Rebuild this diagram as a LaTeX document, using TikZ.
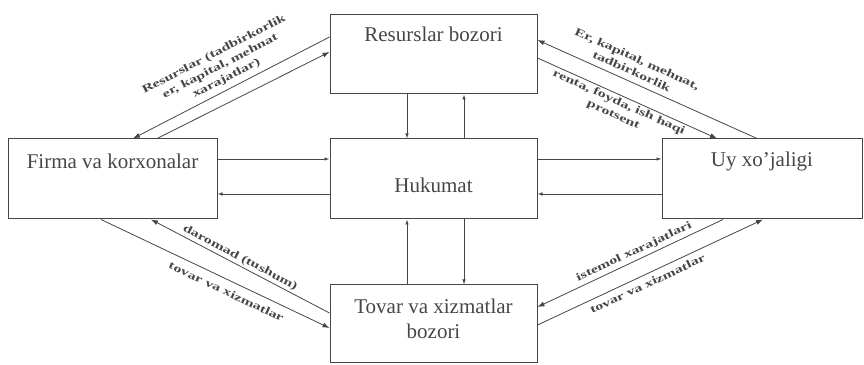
\documentclass[tikz,border=0pt]{standalone}
\usepackage{fontspec}
\setmainfont{Liberation Serif}
\newfontfamily\flowfont[FakeStretch=1.45]{Liberation Serif}
\usetikzlibrary{arrows.meta,positioning}
\definecolor{ink}{RGB}{70,70,70}

\begin{document}
\begin{tikzpicture}[
    x=1pt, y=1pt,
    >={Latex[length=7pt,width=5pt]},
    box/.style={rectangle, draw=ink, line width=1pt, inner sep=0pt},
    boxtext/.style={align=center, font=\fontsize{21}{25}\selectfont, text=ink, inner sep=0pt},
    link/.style={-{Latex[length=5pt,width=3.5pt]}, ink, line width=0.8pt},
    flow/.style={->, ink, line width=0.8pt},
    flowlabel/.style={align=center, sloped, inner sep=1pt, text=ink,
                      font=\flowfont\bfseries\fontsize{11}{13.5}\selectfont}
  ]
    \useasboundingbox (0,0) rectangle (864,364);

    % markets, firms, households, government
    \node[box, minimum width=207, minimum height=79] (res) at (433.5, 309.5) {};
    \node[box, minimum width=209, minimum height=80] (firma) at (112.5, 185) {};
    \node[box, minimum width=207, minimum height=80] (huk) at (433.5, 185) {};
    \node[box, minimum width=200, minimum height=80] (uy) at (762, 185) {};
    \node[box, minimum width=207, minimum height=77] (tovar) at (433.5, 40.5) {};

    \node[boxtext] (res-t) at ([yshift=-20pt]res.north) {Resurslar bozori};
    \node[boxtext] (firma-t) at ([yshift=-23pt]firma.north) {Firma va korxonalar};
    \node[boxtext] (huk-t) at ([yshift=-6pt]huk.center) {Hukumat};
    \node[boxtext] (uy-t) at ([yshift=-23pt]uy.north) {Uy xo’jaligi};
    \node[boxtext] (tovar-t) at ([yshift=-34.5pt]tovar.north) {Tovar va xizmatlar\\bozori};

    % government links
    \draw[link] ([yshift=20pt]firma.east) -- ([yshift=20pt]huk.west);
    \draw[link] ([yshift=-15pt]huk.west) -- ([yshift=-15pt]firma.east);
    \draw[link] ([yshift=20pt]huk.east) -- ([yshift=20pt]uy.west);
    \draw[link] ([yshift=-15pt]uy.west) -- ([yshift=-15pt]huk.east);
    \draw[link] ([xshift=-26.5pt]res.south) -- ([xshift=-26.5pt]huk.north);
    \draw[link] ([xshift=30.5pt]huk.north) -- ([xshift=30.5pt]res.south);
    \draw[link] ([xshift=-26.5pt]tovar.north) -- ([xshift=-26.5pt]huk.south);
    \draw[link] ([xshift=30.5pt]huk.south) -- ([xshift=30.5pt]tovar.north);

    % resource market
    \draw[flow] ([yshift=17.5pt]res.west) -- ([xshift=20.5pt]firma.north)
      node[flowlabel, pos=.5, above=4pt] (res-in) {Resurslar (tadbirkorlik\\er, kapital, mehnat\\xarajatlar)};
    \draw[flow] ([xshift=44.5pt]firma.north) -- ([yshift=2.5pt]res.west);
    \draw[flow] ([xshift=-5pt]uy.north) -- ([yshift=14.5pt]res.east)
      node[flowlabel, pos=.59, above=5pt] (res-out) {Er, kapital, mehnat,\\tadbirkorlik};
    \draw[flow] ([yshift=-3.5pt]res.east) -- ([xshift=-45pt]uy.north)
      node[flowlabel, pos=.47, below=1pt] (income) {renta, foyda, ish haqi\\protsent};

    % goods market
    \draw[flow] ([yshift=10.5pt]tovar.west) -- ([xshift=38.5pt]firma.south)
      node[flowlabel, pos=.52, above=1pt] (revenue) {daromad (tushum)};
    \draw[flow] ([xshift=-11.5pt]firma.south) -- ([yshift=-4.5pt]tovar.west)
      node[flowlabel, pos=.57, below=6pt] (supply) {tovar va xizmatlar};
    \draw[flow] ([xshift=-39pt]uy.south) -- ([yshift=16.5pt]tovar.east)
      node[flowlabel, pos=.46, above=2pt] (spend) {istemol xarajatlari};
    \draw[flow] ([yshift=-1.5pt]tovar.east) -- ([xshift=1pt]uy.south)
      node[flowlabel, pos=.47, below=4pt] (demand) {tovar va xizmatlar};
\end{tikzpicture}
\end{document}
